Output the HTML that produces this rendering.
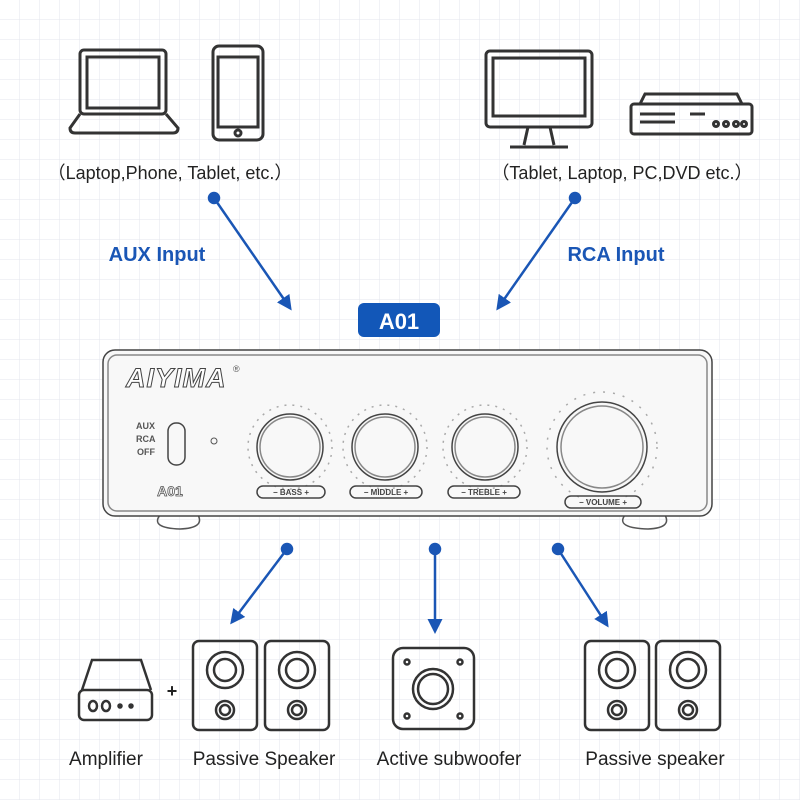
<!DOCTYPE html>
<html><head><style>
body{margin:0;background:#fff}
svg{display:block}
text{font-family:"Liberation Sans",sans-serif}
</style></head><body>
<svg width="800" height="800" viewBox="0 0 800 800" xmlns="http://www.w3.org/2000/svg">
<defs>
<pattern id="g" width="20" height="20" patternUnits="userSpaceOnUse">
<path d="M20 0V20M0 20H20" stroke="#e3e6ec" stroke-width="1" fill="none"/>
</pattern>
<marker id="ar" viewBox="0 0 10 10" refX="8" refY="5" markerWidth="6" markerHeight="6" orient="auto">
<path d="M0 0L10 5L0 10z" fill="#1a56b5"/>
</marker>
</defs>
<rect width="800" height="800" fill="#fff"/>
<rect width="800" height="800" fill="url(#g)"/>

<g fill="none" stroke="#333" stroke-width="3">
<rect x="80" y="50" width="86" height="64" rx="4"/>
<rect x="87" y="57" width="72" height="51"/>
<path d="M80 114 L70 128 Q70 133 75 133 H173 Q178 133 178 128 L166 114"/>
<rect x="213" y="46" width="50" height="94" rx="6"/>
<rect x="218" y="57" width="40" height="70"/>
<circle cx="238" cy="133" r="3"/>
<rect x="486" y="51" width="106" height="76" rx="4"/>
<rect x="493" y="58" width="92" height="58"/>
<path d="M528 127 L524 145 M550 127 L554 145 M510 147 H568"/>
<rect x="631" y="104" width="121" height="30" rx="3"/>
<path d="M640 104 L645 94 H737 L742 104"/>
<path d="M640 114 H675 M640 122 H675 M690 114 H705"/>
<circle cx="716" cy="124" r="2.5"/><circle cx="726" cy="124" r="2.5"/><circle cx="736" cy="124" r="2.5"/><circle cx="744" cy="124" r="2.5"/>
</g>
<text x="170" y="179" font-size="18" fill="#222" text-anchor="middle">（Laptop,Phone, Tablet, etc.）</text>
<text x="622" y="179" font-size="18" fill="#222" text-anchor="middle">（Tablet, Laptop, PC,DVD etc.）</text>

<g stroke="#1a56b5" stroke-width="2.5" fill="#1a56b5">
<circle cx="214" cy="198" r="5"/><circle cx="575" cy="198" r="5"/>
<line x1="214" y1="198" x2="290" y2="308" marker-end="url(#ar)"/>
<line x1="575" y1="198" x2="498" y2="308" marker-end="url(#ar)"/>
<circle cx="287" cy="549" r="5"/><circle cx="435" cy="549" r="5"/><circle cx="558" cy="549" r="5"/>
<line x1="287" y1="549" x2="232" y2="622" marker-end="url(#ar)"/>
<line x1="435" y1="549" x2="435" y2="631" marker-end="url(#ar)"/>
<line x1="558" y1="549" x2="607" y2="625" marker-end="url(#ar)"/>
</g>
<text x="157" y="261" font-size="20" font-weight="bold" fill="#1a56b5" text-anchor="middle">AUX Input</text>
<text x="616" y="261" font-size="20" font-weight="bold" fill="#1a56b5" text-anchor="middle">RCA Input</text>

<rect x="358" y="303" width="82" height="34" rx="6" fill="#1257b8"/>
<text x="399" y="329" font-size="22" font-weight="bold" fill="#fff" text-anchor="middle">A01</text>

<g fill="none" stroke="#555" stroke-width="1.5">
<path d="M160 515 Q150 528 180 529 Q205 528 198 515"/>
<path d="M625 515 Q615 528 648 529 Q672 528 665 515"/>
<rect x="103" y="350" width="609" height="166" rx="12" fill="#f8f8f8" stroke="#444"/>
<rect x="108" y="355" width="599" height="156" rx="9" stroke="#888"/>
</g>
<text x="126" y="387" font-size="27" font-weight="bold" font-style="italic" fill="#fff" stroke="#444" stroke-width="1" letter-spacing="1">AIYIMA</text>
<text x="233" y="372" font-size="9" fill="#555">®</text>
<g font-size="9" fill="#555" font-weight="bold"><text x="136" y="429">AUX</text><text x="136" y="442">RCA</text><text x="137" y="455">OFF</text></g>
<rect x="168" y="423" width="17" height="42" rx="8" fill="none" stroke="#444" stroke-width="1.5"/>
<circle cx="214" cy="441" r="3" fill="none" stroke="#555"/>
<text x="170" y="496" font-size="14" font-weight="bold" fill="#fff" stroke="#555" stroke-width=".8" text-anchor="middle">A01</text>
<g fill="none" stroke="#444" stroke-width="1.5">
<circle cx="290" cy="447" r="33"/><circle cx="290" cy="447" r="30" stroke="#888"/>
<circle cx="385" cy="447" r="33"/><circle cx="385" cy="447" r="30" stroke="#888"/>
<circle cx="485" cy="447" r="33"/><circle cx="485" cy="447" r="30" stroke="#888"/>
<circle cx="602" cy="447" r="45"/><circle cx="602" cy="447" r="41" stroke="#888"/>
<circle cx="290" cy="447" r="42" stroke="#aaa" stroke-dasharray="2 6"/>
<circle cx="385" cy="447" r="42" stroke="#aaa" stroke-dasharray="2 6"/>
<circle cx="485" cy="447" r="42" stroke="#aaa" stroke-dasharray="2 6"/>
<circle cx="602" cy="447" r="55" stroke="#aaa" stroke-dasharray="2 8"/>
<rect x="257" y="486" width="68" height="12" rx="6"/>
<rect x="350" y="486" width="72" height="12" rx="6"/>
<rect x="448" y="486" width="72" height="12" rx="6"/>
<rect x="565" y="496" width="76" height="12" rx="6"/>
</g>
<g font-size="8" fill="#444" text-anchor="middle" font-weight="bold">
<text x="291" y="495">− BASS +</text><text x="386" y="495">− MIDDLE +</text><text x="484" y="495">− TREBLE +</text><text x="603" y="505">− VOLUME +</text>
</g>

<g fill="none" stroke="#333" stroke-width="2.5">
<path d="M82 690 L92 660 H141 L151 690"/>
<rect x="79" y="690" width="73" height="30" rx="5"/>
<ellipse cx="93" cy="706" rx="4" ry="5"/><ellipse cx="106" cy="706" rx="4" ry="5"/>
<circle cx="120" cy="706" r="1.5" fill="#333"/><circle cx="131" cy="706" r="1.5" fill="#333"/>
<rect x="193" y="641" width="64" height="89" rx="6"/>
<circle cx="225" cy="670" r="18"/><circle cx="225" cy="670" r="11"/><circle cx="225" cy="710" r="9"/><circle cx="225" cy="710" r="5"/>
<rect x="265" y="641" width="64" height="89" rx="6"/>
<circle cx="297" cy="670" r="18"/><circle cx="297" cy="670" r="11"/><circle cx="297" cy="710" r="9"/><circle cx="297" cy="710" r="5"/>
<rect x="393" y="648" width="81" height="81" rx="10"/>
<circle cx="433" cy="689" r="20"/><circle cx="433" cy="689" r="15"/>
<circle cx="407" cy="662" r="2.5"/><circle cx="460" cy="662" r="2.5"/><circle cx="407" cy="716" r="2.5"/><circle cx="460" cy="716" r="2.5"/>
<rect x="585" y="641" width="64" height="89" rx="6"/>
<circle cx="617" cy="670" r="18"/><circle cx="617" cy="670" r="11"/><circle cx="617" cy="710" r="9"/><circle cx="617" cy="710" r="5"/>
<rect x="656" y="641" width="64" height="89" rx="6"/>
<circle cx="688" cy="670" r="18"/><circle cx="688" cy="670" r="11"/><circle cx="688" cy="710" r="9"/><circle cx="688" cy="710" r="5"/>
</g>
<text x="172" y="697" font-size="18" font-weight="bold" fill="#222" text-anchor="middle">+</text>
<g font-size="19" fill="#222" text-anchor="middle">
<text x="106" y="765">Amplifier</text>
<text x="264" y="765">Passive Speaker</text>
<text x="449" y="765">Active subwoofer</text>
<text x="655" y="765">Passive speaker</text>
</g>
</svg>
</body></html>
